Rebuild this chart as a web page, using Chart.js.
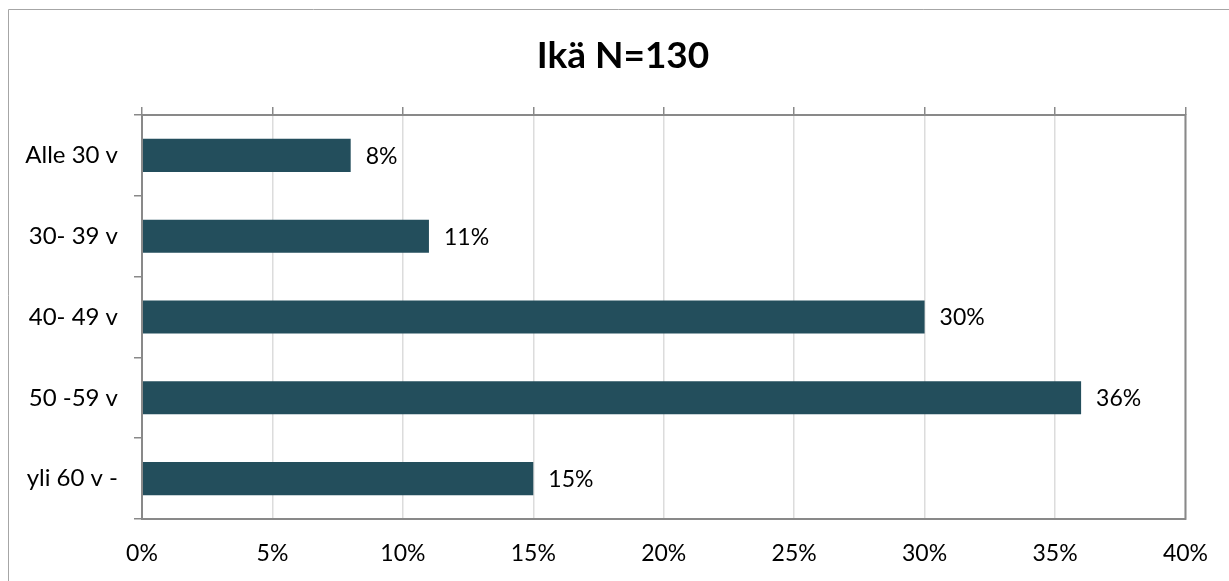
<!DOCTYPE html>
<html><head><meta charset="utf-8">
<script src="https://cdn.jsdelivr.net/npm/chart.js@4"></script>
<style>html,body{margin:0;padding:0;background:#fff}#wrap{width:1229px;height:581px;position:relative}</style>
</head><body><div id="wrap"><canvas id="c" width="1229" height="581"></canvas></div>
<script>
const categories = ["Alle 30 v", "30- 39 v", "40- 49 v", "50 -59 v", "yli 60 v -"];
const values = [8, 11, 30, 36, 15];
const tickValues = [0, 5, 10, 15, 20, 25, 30, 35, 40];
const titleText = "Ikä N=130";

const FONT = "Lato, 'Open Sans', sans-serif";
const AXIS = "#898989";

const framePlugin = {
  id: 'frame',
  beforeDraw(chart) {
    const ctx = chart.ctx;
    ctx.save();
    ctx.strokeStyle = '#a6a6a6';
    ctx.lineWidth = 1;
    ctx.beginPath();
    ctx.moveTo(8.5, 581); ctx.lineTo(8.5, 9.5); ctx.lineTo(1229, 9.5);
    ctx.stroke();
    ctx.restore();
  },
  afterDatasetsDraw(chart) {
    const ctx = chart.ctx, a = chart.chartArea;
    ctx.save();
    ctx.strokeStyle = AXIS; ctx.lineWidth = 2;
    ctx.strokeRect(a.left, a.top, a.right - a.left, a.bottom - a.top);
    const meta = chart.getDatasetMeta(0);
    ctx.fillStyle = '#000';
    ctx.font = "23px " + FONT;
    ctx.textBaseline = 'middle';
    ctx.textAlign = 'left';
    meta.data.forEach((bar, i) => {
      ctx.fillText(values[i] + '%', bar.x + 15, bar.y + 1);
    });
    ctx.restore();
  }
};

new Chart(document.getElementById('c'), {
  type: 'bar',
  data: {
    labels: categories,
    datasets: [{
      data: values,
      backgroundColor: '#234e5c',
      borderWidth: 0,
      barPercentage: 0.41,
      categoryPercentage: 1.0,
      xAxisID: 'x',
      yAxisID: 'y'
    }]
  },
  options: {
    indexAxis: 'y',
    responsive: false,
    animation: false,
    layout: { padding: { left: 17, right: 0, top: 0, bottom: 0 } },
    plugins: {
      legend: { display: false },
      tooltip: { enabled: false },
      title: {
        display: true,
        text: titleText,
        color: '#000',
        font: { family: FONT, size: 37, weight: 'bold' },
        padding: { top: 34, bottom: 0 }
      }
    },
    scales: {
      x: {
        position: 'bottom',
        min: 0, max: 40,
        afterBuildTicks: s => { s.ticks = tickValues.map(v => ({ value: v })); },
        afterFit: s => { s.height = 62; },
        grid: { color: '#dcdcdc', lineWidth: 1.5, drawTicks: false },
        border: { display: false },
        ticks: {
          color: '#000',
          font: { family: FONT, size: 23 },
          padding: 21,
          callback: v => v + '%'
        }
      },
      x2: {
        position: 'top',
        min: 0, max: 40,
        afterBuildTicks: s => { s.ticks = tickValues.map(v => ({ value: v })); },
        afterFit: s => { s.height = 115 - 34 - 37 * 1.2; },
        grid: { color: AXIS, lineWidth: 1.5, drawOnChartArea: false, drawTicks: true, tickLength: 8 },
        border: { display: false },
        ticks: { display: false }
      },
      y: {
        afterFit: s => { s.width = 125; },
        grid: { color: AXIS, lineWidth: 1.5, drawOnChartArea: false, drawTicks: true, tickLength: 8, offset: true },
        border: { display: false },
        ticks: {
          color: '#000',
          font: { family: FONT, size: 24 },
          padding: 16
        }
      },
      yRight: {
        type: 'category',
        position: 'right',
        labels: categories,
        afterFit: s => { s.width = 42; },
        grid: { display: false },
        border: { display: false },
        ticks: { display: false }
      }
    }
  },
  plugins: [framePlugin]
});
</script>
</body></html>
